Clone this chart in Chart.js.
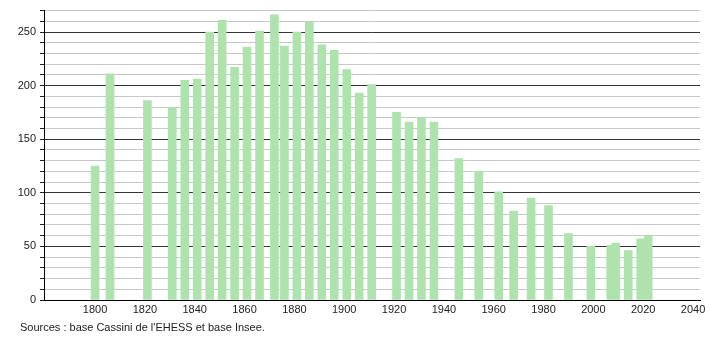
<!DOCTYPE html>
<html>
<head>
<meta charset="utf-8">
<script src="https://cdn.jsdelivr.net/npm/chart.js@4/dist/chart.umd.min.js"></script>
<style>
  body { margin: 0; background: #fff; }
  #wrap { position: relative; width: 710px; height: 340px; }
  #src { position: absolute; left: 20px; top: 321px; font: 11px "Liberation Sans", Arial, sans-serif; color: #222; }
</style>
</head>
<body>
<div id="wrap">
  <canvas id="myChart" width="710" height="340"></canvas>
  <div id="src">Sources : base Cassini de l'EHESS et base Insee.</div>
</div>
<script>
const years = [1800, 1806, 1821, 1831, 1836, 1841, 1846, 1851, 1856, 1861, 1866, 1872, 1876, 1881, 1886, 1891, 1896, 1901, 1906, 1911, 1921, 1926, 1931, 1936, 1946, 1954, 1962, 1968, 1975, 1982, 1990, 1999, 2007, 2009, 2014, 2019, 2022];
const population = [125, 211, 186, 179, 205, 206, 250, 261, 217, 236, 251, 266, 237, 250, 259, 238, 233, 215, 193, 201, 175, 166, 170, 166, 132, 120, 101, 83, 95, 88, 62, 50, 51, 53, 46, 57, 60];
const yearTicks = [1800, 1820, 1840, 1860, 1880, 1900, 1920, 1940, 1960, 1980, 2000, 2020, 2040];

const font = { family: "Liberation Sans, Arial, sans-serif", size: 11 };

const data = {
  datasets: [
    {
      data: years.map((y, i) => ({ x: y, y: population[i] })),
      backgroundColor: "#aee3ae",
      barThickness: 8,
    },
  ],
};

const config = {
  type: "bar",
  data: data,
  options: {
    responsive: false,
    animation: false,
    layout: { padding: { top: 10, right: 10, left: 0, bottom: 0 } },
    scales: {
      x: {
        type: "linear",
        offset: false,
        min: 1779.5,
        max: 2042.8,
        grid: { display: false, offset: false, drawTicks: false, tickLength: 0 },
        border: { display: true, color: "#000", width: 1 },
        afterBuildTicks: (axis) => {
          axis.ticks = yearTicks.map((v) => ({ value: v }));
        },
        afterFit: (axis) => { axis.height = 40; },
        ticks: {
          color: "#222",
          font: font,
          maxRotation: 0,
          autoSkip: false,
          padding: 3,
          callback: (v) => String(v),
        },
      },
      y: {
        min: 0,
        max: 270,
        afterFit: (axis) => { axis.width = 44; },
        border: { display: true, color: "#000", width: 1 },
        grid: {
          color: (c) => (c.tick && c.tick.value % 50 === 0 ? "#333" : "#c8c8c8"),
          tickColor: "#222",
          tickLength: 4,
        },
        ticks: {
          stepSize: 10,
          autoSkip: false,
          color: "#222",
          font: font,
          padding: 4,
          callback: (v) => (v % 50 === 0 ? String(v) : ""),
        },
      },
    },
    plugins: {
      legend: { display: false },
      tooltip: { enabled: false },
    },
  },
};

let myChart = new Chart(document.getElementById("myChart"), config);
</script>
</body>
</html>
